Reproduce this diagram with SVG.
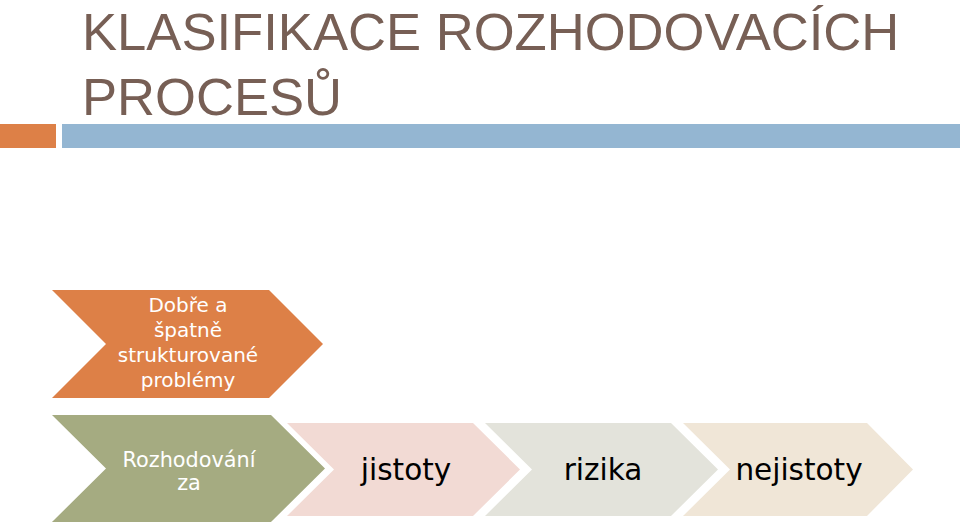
<svg xmlns="http://www.w3.org/2000/svg" width="960" height="528" viewBox="0 0 960 528">
<style>
.title{font-family:"Liberation Sans",Arial,sans-serif;font-size:52.6px;fill:#775F55}
.wt{font-family:"DejaVu Sans",sans-serif;font-size:20px;fill:#ffffff;text-anchor:middle}
.wt2{font-family:"DejaVu Sans",sans-serif;font-size:20.8px;fill:#ffffff;text-anchor:middle}
.bk{font-family:"DejaVu Sans",sans-serif;font-size:29.5px;fill:#000000;text-anchor:middle}
</style>
<rect width="960" height="528" fill="#ffffff"/>
<g id="title">
<text class="title" x="82" y="49.5">KLASIFIKACE ROZHODOVACÍCH</text>
<text class="title" x="82" y="115">PROCESŮ</text>
</g>
<g id="bars">
<rect x="0" y="124" width="56" height="24" fill="#DD8047"/>
<rect x="62" y="124" width="898" height="24" fill="#94B6D2"/>
</g>
<g id="node-problemy">
<polygon points="52,290 269,290 323,344 269,398 52,398 106,344" fill="#DD8047"/>
<text class="wt" x="188" y="311.5">Dobře a</text>
<text class="wt" x="188" y="337">špatně</text>
<text class="wt" x="188" y="362">strukturované</text>
<text class="wt" x="188" y="387">problémy</text>
</g>
<g id="node-rozhodovani">
<polygon points="52,415 271,415 325,468.5 271,522 52,522 106,468.5" fill="#A5AB81"/>
<text class="wt2" x="189" y="466.5">Rozhodování</text>
<text class="wt2" x="189" y="490">za</text>
</g>
<g id="node-jistoty">
<polygon points="287,423 473,423 520,469.5 473,516 287,516 334,469.5" fill="#F2DAD4"/>
<text class="bk" x="406" y="480">jistoty</text>
</g>
<g id="node-rizika">
<polygon points="485,423 671,423 718,469.5 671,516 485,516 532,469.5" fill="#E3E3DB"/>
<text class="bk" x="603" y="480">rizika</text>
</g>
<g id="node-nejistoty">
<polygon points="683,423 867,423 913,469.5 867,516 683,516 730,469.5" fill="#F0E6D7"/>
<text class="bk" x="799" y="480">nejistoty</text>
</g>
<g id="connectors"></g>
</svg>
